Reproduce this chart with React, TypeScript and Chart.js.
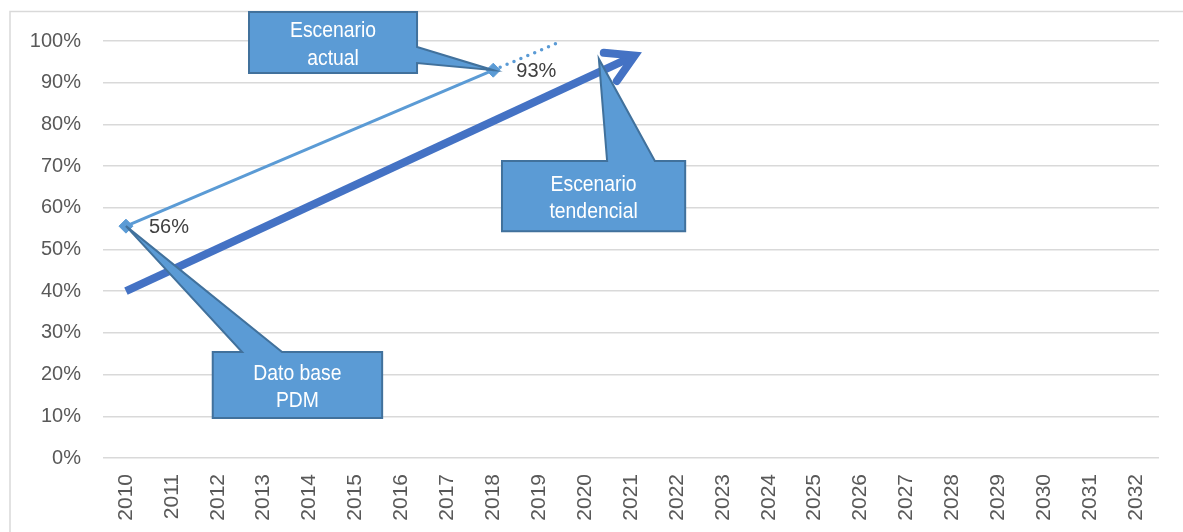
import React, { useEffect, useRef } from 'react';
import { Chart, registerables } from 'chart.js';

Chart.register(...registerables);

// ---- data ----
const years = ['2010', '2011', '2012', '2013', '2014', '2015', '2016', '2017', '2018', '2019', '2020', '2021', '2022', '2023', '2024', '2025', '2026', '2027', '2028', '2029', '2030', '2031', '2032'];
const yTicks = [0, 10, 20, 30, 40, 50, 60, 70, 80, 90, 100];

const actualX = [2010, 2018];
const actualY = [55.6, 93];
const actualLabels = ['56%', '93%'];

const extensionX = [2018, 2019.5];
const extensionY = [93, 100];

const trendArrowX = [2010, 2021.08];
const trendArrowY = [40, 96.5];

// callouts (data units): box x1,x2, yTop,yBottom, pointer side, base, tip
const calloutTexts = [['Escenario', 'actual'], ['Escenario', 'tendencial'], ['Dato base', 'PDM']];
const calloutBoxX = [[2012.68, 2016.34], [2018.19, 2022.18], [2011.89, 2015.58]];
const calloutBoxY = [[106.95, 92.33], [71.2, 54.4], [25.4, 9.6]];
const calloutSide = ['right', 'top', 'top'];
const calloutBase = [[98.56, 94.72], [2020.48, 2021.52], [2012.53, 2013.4]];
const calloutTip = [[2018, 93], [2020.3, 95.7], [2010, 55.6]];

const FONT = '"Liberation Sans", Arial, sans-serif';
const LIGHT = '#5B9BD5';
const DARK = '#4472C4';

const W = 1183;
const H = 532;

const decor = {
  id: 'decor',
  beforeDraw(chart: any) {
    const ctx = chart.ctx;
    ctx.save();
    ctx.strokeStyle = '#d9d9d9';
    ctx.lineWidth = 1.5;
    ctx.beginPath();
    ctx.moveTo(10, chart.height + 5);
    ctx.lineTo(10, 11.5);
    ctx.lineTo(chart.width + 5, 11.5);
    ctx.stroke();
    ctx.restore();
  },
  afterDatasetsDraw(chart: any) {
    const ctx = chart.ctx;
    const xs = chart.scales.x;
    const ys = chart.scales.y;

    // arrowhead on trend arrow
    const am = chart.getDatasetMeta(2).data;
    const a0 = am[0], a1 = am[am.length - 1];
    const ang = Math.atan2(a1.y - a0.y, a1.x - a0.x);
    const back = ang + Math.PI;
    const half = (30 * Math.PI) / 180;
    const L = 31;
    ctx.save();
    ctx.strokeStyle = DARK;
    ctx.lineWidth = 8;
    ctx.lineCap = 'round';
    ctx.lineJoin = 'miter';
    ctx.beginPath();
    ctx.moveTo(a1.x + L * Math.cos(back + half), a1.y + L * Math.sin(back + half));
    ctx.lineTo(a1.x, a1.y);
    ctx.lineTo(a1.x + L * Math.cos(back - half), a1.y + L * Math.sin(back - half));
    ctx.stroke();
    ctx.restore();

    // callouts
    calloutTexts.forEach((lines, i) => {
      const x1 = xs.getPixelForValue(calloutBoxX[i][0]);
      const x2 = xs.getPixelForValue(calloutBoxX[i][1]);
      const yt = ys.getPixelForValue(calloutBoxY[i][0]);
      const yb = ys.getPixelForValue(calloutBoxY[i][1]);
      const tx = xs.getPixelForValue(calloutTip[i][0]);
      const ty = ys.getPixelForValue(calloutTip[i][1]);
      ctx.save();
      ctx.beginPath();
      if (calloutSide[i] === 'right') {
        const b1 = ys.getPixelForValue(calloutBase[i][0]);
        const b2 = ys.getPixelForValue(calloutBase[i][1]);
        ctx.moveTo(x1, yt);
        ctx.lineTo(x2, yt);
        ctx.lineTo(x2, b1);
        ctx.lineTo(tx, ty);
        ctx.lineTo(x2, b2);
        ctx.lineTo(x2, yb);
        ctx.lineTo(x1, yb);
      } else {
        const b1 = xs.getPixelForValue(calloutBase[i][0]);
        const b2 = xs.getPixelForValue(calloutBase[i][1]);
        ctx.moveTo(x1, yt);
        ctx.lineTo(b1, yt);
        ctx.lineTo(tx, ty);
        ctx.lineTo(b2, yt);
        ctx.lineTo(x2, yt);
        ctx.lineTo(x2, yb);
        ctx.lineTo(x1, yb);
      }
      ctx.closePath();
      ctx.fillStyle = LIGHT;
      ctx.fill();
      ctx.strokeStyle = '#41719C';
      ctx.lineWidth = 2;
      ctx.lineJoin = 'miter';
      ctx.stroke();

      const cx = (x1 + x2) / 2;
      const cy = (yt + yb) / 2;
      ctx.fillStyle = '#ffffff';
      ctx.font = `22px ${FONT}`;
      ctx.textAlign = 'center';
      ctx.textBaseline = 'alphabetic';
      lines.forEach((t, k) => {
        ctx.save();
        ctx.translate(cx, cy + (k === 0 ? -5.5 : 22));
        ctx.scale(0.88, 1);
        ctx.fillText(t, 0, 0);
        ctx.restore();
      });
      ctx.restore();
    });

    // data labels
    const pm = chart.getDatasetMeta(0).data;
    ctx.save();
    ctx.fillStyle = '#404040';
    ctx.font = `20px ${FONT}`;
    ctx.textAlign = 'left';
    ctx.textBaseline = 'middle';
    pm.forEach((p: any, i: number) => {
      ctx.fillText(actualLabels[i], p.x + 23, p.y + 1);
    });
    ctx.restore();
  },
};

export default function App() {
  const ref = useRef<HTMLCanvasElement>(null);
  useEffect(() => {
    if (!ref.current) return;
    const chart = new Chart(ref.current, {
      type: 'line',
      data: {
        datasets: [
          {
            data: actualX.map((x, i) => ({ x, y: actualY[i] })),
            borderColor: LIGHT,
            backgroundColor: LIGHT,
            borderWidth: 3,
            pointStyle: 'rectRot',
            pointRadius: 7,
            pointBackgroundColor: LIGHT,
            pointBorderColor: LIGHT,
            pointBorderWidth: 1,
            clip: false,
            order: 0,
          },
          {
            data: extensionX.map((x, i) => ({ x, y: extensionY[i] })),
            borderColor: LIGHT,
            borderWidth: 3.5,
            borderDash: [0, 7.5],
            borderCapStyle: 'round',
            pointRadius: 0,
            clip: false,
            order: 1,
          },
          {
            data: trendArrowX.map((x, i) => ({ x, y: trendArrowY[i] })),
            borderColor: DARK,
            borderWidth: 8,
            borderCapStyle: 'butt',
            pointRadius: 0,
            clip: false,
            order: 2,
          },
        ] as any,
      },
      options: {
        responsive: false,
        animation: false,
        devicePixelRatio: 1,
        layout: { padding: { top: 41, right: 24, left: 0, bottom: 0 } },
        plugins: { legend: { display: false }, tooltip: { enabled: false } },
        scales: {
          x: {
            type: 'linear',
            min: 2009.5,
            max: 2032.5,
            afterBuildTicks: (s: any) => {
              s.ticks = years.map((y) => ({ value: Number(y) }));
            },
            afterFit: (s: any) => {
              s.height = 74;
            },
            grid: { display: false },
            border: { display: false },
            ticks: {
              autoSkip: false,
              minRotation: 90,
              maxRotation: 90,
              padding: 8,
              color: '#595959',
              font: { family: FONT, size: 21 },
              callback: (v: any) => years.find((y) => Number(y) === Number(v)) ?? '',
            },
          },
          y: {
            min: 0,
            max: 100,
            afterBuildTicks: (s: any) => {
              s.ticks = yTicks.map((v) => ({ value: v }));
            },
            afterFit: (s: any) => {
              s.width = 103;
            },
            grid: { color: '#d9d9d9', lineWidth: 1.5, drawTicks: false },
            border: { display: false },
            ticks: {
              padding: 22,
              color: '#595959',
              font: { family: FONT, size: 20 },
              callback: (v: any) => `${v}%`,
            },
          },
        },
      } as any,
      plugins: [decor],
    });
    return () => chart.destroy();
  }, []);
  return (
    <div style={{ position: 'fixed', left: 0, top: 0, width: W, height: H, overflow: 'hidden' }}>
      <canvas ref={ref} width={W} height={H} style={{ display: 'block' }} />
    </div>
  );
}
